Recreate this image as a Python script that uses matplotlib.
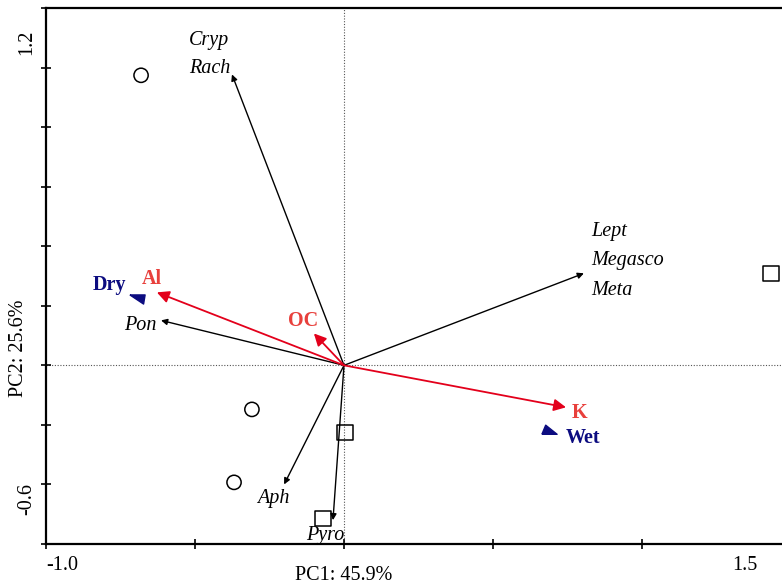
import matplotlib
matplotlib.use('Agg')
import matplotlib.pyplot as plt

# sample scores (circles = dry sites, squares = wet sites)
dry_x = [-0.681, -0.309, -0.369]
dry_y = [0.974, -0.148, -0.393]
wet_x = [1.433, 0.003, -0.070]
wet_y = [0.309, -0.225, -0.514]

# species arrows
sp_names = ['Cryp\nRach', 'Lept\nMegasco\nMeta', 'Pon', 'Aph', 'Pyro']
sp_x = [-0.376, 0.805, -0.614, -0.201, -0.037]
sp_y = [0.977, 0.309, 0.151, -0.400, -0.520]

# environmental arrows
env_names = ['Al', 'OC', 'K']
env_x = [-0.628, -0.101, 0.745]
env_y = [0.245, 0.107, -0.141]

# nominal variables (centroids)
nom_names = ['Dry', 'Wet']
nom_x = [-0.695, 0.688]
nom_y = [0.222, -0.218]

plt.rcParams['font.family'] = ['Liberation Serif', 'DejaVu Serif']
fs = 14.5
red_line = '#e3001b'
red_txt = '#e8403c'
navy = '#0c0c80'

fig = plt.figure(figsize=(7.82, 5.86), dpi=100)
ax = fig.add_axes([46/782, 42/586, 745/782, 536/586])
ax.set_xlim(-1.0, 1.5)
ax.set_ylim(-0.6, 1.2)

ax.axhline(0, color='#555555', lw=0.8, ls=(0, (1, 1.5)), zorder=1)
ax.axvline(0, color='#555555', lw=0.8, ls=(0, (1, 1.5)), zorder=1)

for x, y in zip(sp_x, sp_y):
    ax.annotate('', xy=(x, y), xytext=(0, 0),
                arrowprops=dict(arrowstyle='-|>', color='black', lw=1.0,
                                mutation_scale=9, shrinkA=0, shrinkB=0))
for x, y in zip(env_x, env_y):
    ax.annotate('', xy=(x, y), xytext=(0, 0),
                arrowprops=dict(arrowstyle='-|>', color=red_line, lw=1.3,
                                mutation_scale=18, shrinkA=0, shrinkB=0))

ax.scatter(dry_x, dry_y, s=105, marker='o', facecolors='none', edgecolors='black', lw=1.1, zorder=3)
ax.scatter(wet_x, wet_y, s=125, marker='s', facecolors='none', edgecolors='black', lw=1.1, zorder=3)

dry_mark = [(-1, 0.6), (1, 0.6), (0.8, -0.6), (-1, 0.6)]
wet_mark = [(-1, -0.5), (1, -0.5), (-0.5, 0.7), (-1, -0.5)]
ax.scatter(nom_x[0], nom_y[0], s=120, marker=dry_mark, color=navy, zorder=4)
ax.scatter(nom_x[1], nom_y[1], s=120, marker=wet_mark, color=navy, zorder=4)

# species labels
ax.text(-0.520, 1.09, 'Cryp', style='italic', fontsize=fs, ha='left', va='center')
ax.text(-0.520, 0.996, 'Rach', style='italic', fontsize=fs, ha='left', va='center')
ax.text(0.829, 0.451, 'Lept', style='italic', fontsize=fs, ha='left', va='center')
ax.text(0.829, 0.353, 'Megasco', style='italic', fontsize=fs, ha='left', va='center')
ax.text(0.829, 0.252, 'Meta', style='italic', fontsize=fs, ha='left', va='center')
ax.text(-0.738, 0.134, 'Pon', style='italic', fontsize=fs, ha='left', va='center')
ax.text(-0.292, -0.447, 'Aph', style='italic', fontsize=fs, ha='left', va='center')
ax.text(-0.128, -0.570, 'Pyro', style='italic', fontsize=fs, ha='left', va='center')

# env labels
ax.text(-0.678, 0.290, 'Al', color=red_txt, fontweight='bold', fontsize=fs, ha='left', va='center')
ax.text(-0.188, 0.150, 'OC', color=red_txt, fontweight='bold', fontsize=fs, ha='left', va='center')
ax.text(0.765, -0.160, 'K', color=red_txt, fontweight='bold', fontsize=fs, ha='left', va='center')
ax.text(-0.845, 0.270, 'Dry', color=navy, fontweight='bold', fontsize=fs, ha='left', va='center')
ax.text(0.745, -0.245, 'Wet', color=navy, fontweight='bold', fontsize=fs, ha='left', va='center')

# frame and ticks
ax.spines['right'].set_visible(False)
for s in ['left', 'bottom', 'top']:
    ax.spines[s].set_linewidth(1.6)
ax.set_xticks([-1.0, -0.5, 0, 0.5, 1.0, 1.5])
ax.set_yticks([-0.6, -0.4, -0.2, 0, 0.2, 0.4, 0.6, 0.8, 1.0, 1.2])
ax.tick_params(direction='inout', length=7, width=1.2, labelbottom=False, labelleft=False)

fig.text(62/782, 1 - 566/586, '-1.0', fontsize=fs, ha='center', va='center')
fig.text(745/782, 1 - 566/586, '1.5', fontsize=fs, ha='center', va='center')
fig.text(344/782, 1 - 575/586, 'PC1: 45.9%', fontsize=fs, ha='center', va='center')
fig.text(27/782, 1 - 42/586, '1.2', fontsize=fs, rotation=90, ha='center', va='center')
fig.text(27/782, 1 - 499/586, '-0.6', fontsize=fs, rotation=90, ha='center', va='center')
fig.text(19/782, 1 - 348/586, 'PC2: 25.6%', fontsize=fs, rotation=90, ha='center', va='center')

fig.savefig('out.png', dpi=100)
